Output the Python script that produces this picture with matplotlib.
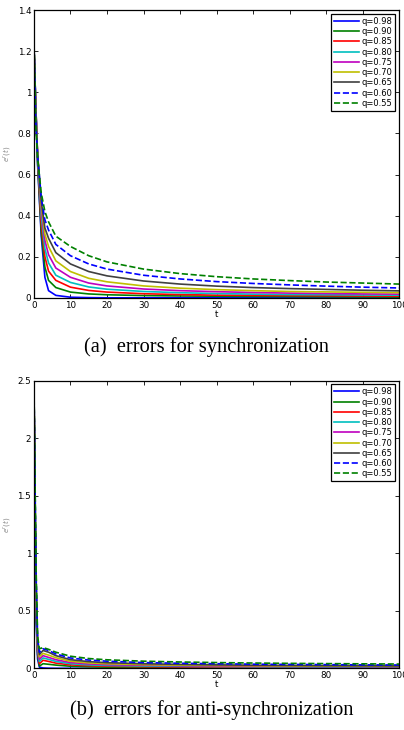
import matplotlib
matplotlib.use("Agg")
import matplotlib.pyplot as plt

# orders of the fractional system and line styles (MATLAB-like)
q_labels = ["q=0.98", "q=0.90", "q=0.85", "q=0.80", "q=0.75",
            "q=0.70", "q=0.65", "q=0.60", "q=0.55"]
colors = ["#0000ff", "#008000", "#ff0000", "#00bfbf", "#bf00bf",
          "#bfbf00", "#404040", "#0000ff", "#008000"]
styles = ["-", "-", "-", "-", "-", "-", "-", "--", "--"]

# (a) errors for synchronization
t_sync = [0, 0.5, 1, 2, 3, 4, 6, 10, 15, 20, 30, 40, 50, 60, 70, 80, 90, 100]
e_sync = [
    [1.22, 0.95, 0.65, 0.30, 0.10, 0.035, 0.012, 0.003, 0.001, 0, 0, 0, 0, 0, 0, 0, 0, 0],
    [1.22, 0.95, 0.66, 0.32, 0.15, 0.085, 0.050, 0.028, 0.019, 0.015, 0.011, 0.009, 0.008, 0.007, 0.006, 0.005, 0.0045, 0.004],
    [1.22, 0.94, 0.68, 0.36, 0.20, 0.130, 0.085, 0.052, 0.036, 0.028, 0.020, 0.016, 0.013, 0.012, 0.011, 0.010, 0.009, 0.008],
    [1.23, 0.93, 0.69, 0.40, 0.24, 0.170, 0.110, 0.075, 0.053, 0.042, 0.031, 0.025, 0.021, 0.018, 0.016, 0.015, 0.014, 0.013],
    [1.23, 0.92, 0.70, 0.43, 0.28, 0.210, 0.145, 0.100, 0.072, 0.058, 0.043, 0.035, 0.030, 0.026, 0.023, 0.021, 0.019, 0.018],
    [1.24, 0.90, 0.70, 0.45, 0.31, 0.250, 0.180, 0.128, 0.095, 0.078, 0.058, 0.047, 0.040, 0.035, 0.031, 0.029, 0.027, 0.025],
    [1.24, 0.88, 0.70, 0.47, 0.34, 0.290, 0.220, 0.165, 0.128, 0.107, 0.082, 0.067, 0.057, 0.050, 0.045, 0.041, 0.037, 0.034],
    [1.25, 0.86, 0.69, 0.49, 0.38, 0.330, 0.260, 0.205, 0.165, 0.140, 0.110, 0.092, 0.079, 0.070, 0.063, 0.057, 0.052, 0.048],
    [1.27, 0.84, 0.68, 0.51, 0.42, 0.370, 0.300, 0.250, 0.205, 0.175, 0.140, 0.118, 0.103, 0.092, 0.084, 0.077, 0.072, 0.067],
]

# (b) errors for anti-synchronization
t_anti = [0, 0.3, 0.6, 1.0, 1.5, 2.5, 4, 6, 10, 15, 20, 30, 40, 50, 60, 70, 80, 90, 100]
e_anti = [
    [2.45, 1.20, 0.40, 0.08, 0.010, 0.003, 0.001, 0, 0, 0, 0, 0, 0, 0, 0, 0, 0, 0, 0],
    [2.45, 1.30, 0.50, 0.12, 0.020, 0.040, 0.035, 0.028, 0.018, 0.013, 0.010, 0.008, 0.006, 0.005, 0.005, 0.004, 0.004, 0.003, 0.003],
    [2.45, 1.35, 0.55, 0.15, 0.040, 0.070, 0.060, 0.045, 0.030, 0.022, 0.018, 0.014, 0.012, 0.010, 0.009, 0.008, 0.008, 0.007, 0.007],
    [2.46, 1.40, 0.60, 0.17, 0.060, 0.090, 0.078, 0.060, 0.040, 0.030, 0.025, 0.020, 0.017, 0.015, 0.013, 0.012, 0.011, 0.010, 0.010],
    [2.46, 1.45, 0.65, 0.19, 0.080, 0.110, 0.095, 0.075, 0.050, 0.038, 0.032, 0.026, 0.022, 0.019, 0.017, 0.016, 0.015, 0.014, 0.013],
    [2.47, 1.50, 0.70, 0.21, 0.100, 0.130, 0.115, 0.092, 0.062, 0.047, 0.040, 0.032, 0.027, 0.024, 0.022, 0.020, 0.019, 0.018, 0.017],
    [2.47, 1.55, 0.75, 0.23, 0.120, 0.155, 0.140, 0.110, 0.075, 0.058, 0.049, 0.040, 0.034, 0.030, 0.027, 0.025, 0.023, 0.022, 0.021],
    [2.48, 1.60, 0.80, 0.26, 0.140, 0.170, 0.155, 0.125, 0.090, 0.072, 0.062, 0.050, 0.044, 0.040, 0.036, 0.034, 0.032, 0.030, 0.029],
    [2.50, 1.65, 0.85, 0.28, 0.170, 0.180, 0.165, 0.140, 0.105, 0.085, 0.074, 0.062, 0.055, 0.050, 0.046, 0.043, 0.041, 0.039, 0.037],
]

fig = plt.figure(figsize=(4.04, 7.30), dpi=100)
ax1 = fig.add_axes([0.084, 0.592, 0.904, 0.394])
ax2 = fig.add_axes([0.084, 0.0845, 0.904, 0.394])


def draw(ax, t, data, ymax, yticks, ytl):
    for i in range(len(data)):
        ax.plot(t, data[i], color=colors[i], linestyle=styles[i], lw=1.2,
                label=q_labels[i])
    ax.set_xlim(0, 100)
    ax.set_ylim(0, ymax)
    ax.set_xticks(range(0, 101, 10))
    ax.set_yticks(yticks)
    ax.set_yticklabels(ytl)
    ax.tick_params(direction="in", top=True, right=True, labelsize=6.3,
                   length=3, width=0.6, pad=2)
    for s in ax.spines.values():
        s.set_linewidth(0.9)
    ax.set_xlabel("t", fontsize=6.3, labelpad=0)
    ax.set_ylabel("$e^{r}(t)$", fontsize=5, color="#888888")
    ax.yaxis.set_label_coords(-0.058, 0.5)
    leg = ax.legend(loc="upper right", fontsize=6, handlelength=3.0,
                    handletextpad=0.3, labelspacing=0.15, borderpad=0.35,
                    fancybox=False, framealpha=1, borderaxespad=0.45)
    leg.get_frame().set_edgecolor("black")
    leg.get_frame().set_linewidth(0.9)


draw(ax1, t_sync, e_sync, 1.4,
     [0, 0.2, 0.4, 0.6, 0.8, 1, 1.2, 1.4],
     ["0", "0.2", "0.4", "0.6", "0.8", "1", "1.2", "1.4"])
draw(ax2, t_anti, e_anti, 2.5,
     [0, 0.5, 1, 1.5, 2, 2.5],
     ["0", "0.5", "1", "1.5", "2", "2.5"])

fig.text(207 / 404, 1 - 347 / 730, "(a)  errors for synchronization",
         ha="center", va="center", fontsize=14.7, family="Liberation Serif")
fig.text(212 / 404, 1 - 710 / 730, "(b)  errors for anti-synchronization",
         ha="center", va="center", fontsize=14.7, family="Liberation Serif")

fig.savefig("out.png", dpi=100)
